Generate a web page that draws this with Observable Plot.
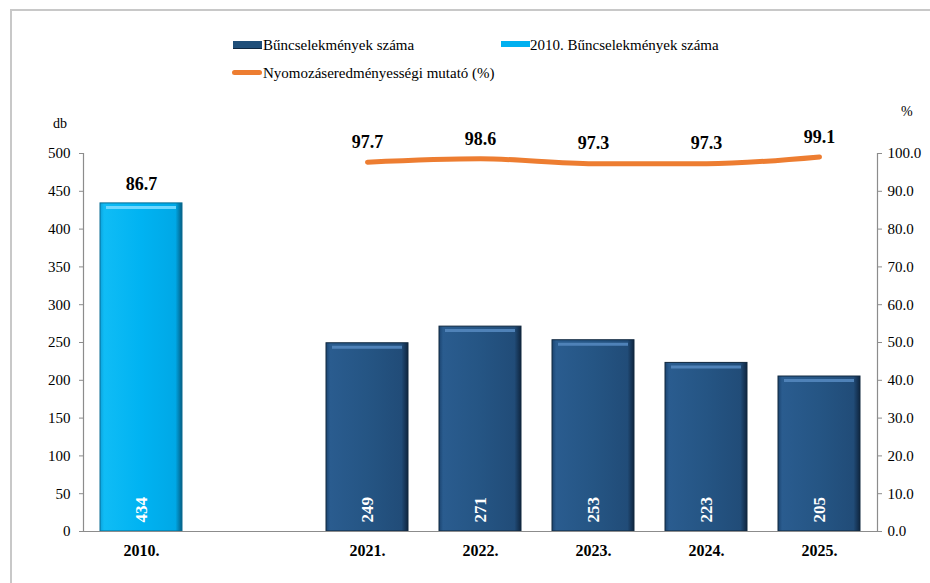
<!DOCTYPE html>
<html><head><meta charset="utf-8">
<script src="https://cdn.jsdelivr.net/npm/d3@7"></script>
<script src="https://cdn.jsdelivr.net/npm/@observablehq/plot@0.6"></script>
<style>
body{margin:0;background:#fff;font-family:"Liberation Serif","Times New Roman",Tinos,"DejaVu Serif",serif;}
#wrap{position:relative;width:930px;height:583px;overflow:hidden;}
#frame{position:absolute;left:10px;top:9px;width:940px;height:600px;border-top:2px solid #c8c8c8;border-left:2px solid #c8c8c8;}
#chart{position:absolute;left:0;top:0;}
.leg{position:absolute;font-size:15px;color:#000;white-space:nowrap;line-height:18px;}
.sw{position:absolute;}
.unit{position:absolute;font-size:14px;color:#000;}
svg text{font-family:"Liberation Serif","Times New Roman",Tinos,"DejaVu Serif",serif;}
</style></head>
<body>
<div id="wrap">
  <div id="frame"></div>
  <div id="chart"></div>
  <div class="sw" style="left:233px;top:41px;width:29px;height:7px;background:#1f4e79;border-bottom:1px solid #0d2640;"></div>
  <div class="leg" style="left:263px;top:36px;">Bűncselekmények száma</div>
  <div class="sw" style="left:501px;top:41px;width:29px;height:6px;background:#00b0f0;"></div>
  <div class="leg" style="left:530px;top:36px;">2010. Bűncselekmények száma</div>
  <div class="sw" style="left:232px;top:70px;width:30px;height:5px;background:#ed7d31;border-radius:3px;"></div>
  <div class="leg" style="left:263px;top:64px;">Nyomozáseredményességi mutató (%)</div>
  <div class="unit" style="left:53px;top:116px;">db</div>
  <div class="unit" style="left:901px;top:104px;">%</div>
</div>
<script>
const categories = ["2010.", "", "2021.", "2022.", "2023.", "2024.", "2025."];
const darkYears = ["2021.", "2022.", "2023.", "2024.", "2025."];
const darkValues = [249, 271, 253, 223, 205];
const lightYears = ["2010."];
const lightValues = [434];
const pctYears = ["2010.", "2021.", "2022.", "2023.", "2024.", "2025."];
const pctValues = [86.7, 97.7, 98.6, 97.3, 97.3, 99.1];
const leftTicks = [0, 50, 100, 150, 200, 250, 300, 350, 400, 450, 500];
const rightTicks = [0, 10, 20, 30, 40, 50, 60, 70, 80, 90, 100];
const pctToDb = 500 / 100;

const dark = darkYears.map((year, i) => ({year, value: darkValues[i]}));
const light = lightYears.map((year, i) => ({year, value: lightValues[i]}));
const allBars = light.concat(dark);
const pct = pctYears.map((year, i) => ({year, pct: pctValues[i]}));
const pctLine = pct.filter(d => darkYears.includes(d.year));
const serif = "'Liberation Serif','Times New Roman',Tinos,'DejaVu Serif',serif";

const chart = Plot.plot({
  width: 930, height: 583,
  marginTop: 153, marginBottom: 52, marginLeft: 83, marginRight: 53,
  style: {fontFamily: serif, fontSize: "15px", color: "#000", background: "transparent", overflow: "visible"},
  x: {type: "band", domain: categories, paddingInner: 0.27, paddingOuter: 0.135, label: null},
  y: {domain: [0, 500], label: null},
  marks: [
    Plot.barY(light, {x: "year", y: "value", fill: "url(#gLight)", stroke: "#0a6d93", strokeWidth: 1}),
    Plot.barY(dark, {x: "year", y: "value", fill: "url(#gDark)", stroke: "#10283f", strokeWidth: 1}),
    Plot.tickY(light, {x: "year", y: "value", dy: 4, insetLeft: 6, insetRight: 6, stroke: "#6fd8ff", strokeWidth: 3}),
    Plot.tickY(dark, {x: "year", y: "value", dy: 4, insetLeft: 6, insetRight: 6, stroke: "#4f82b8", strokeWidth: 3}),
    Plot.ruleY([0], {stroke: "#8c8c8c", strokeWidth: 1.2}),
    Plot.frame({anchor: "left", stroke: "#8c8c8c", strokeWidth: 1.2}),
    Plot.frame({anchor: "right", stroke: "#8c8c8c", strokeWidth: 1.2}),
    Plot.axisY(leftTicks, {anchor: "left", tickSize: 4, tickPadding: 9, stroke: "#8c8c8c", fill: "#000", fontSize: 15, label: null}),
    Plot.axisY(rightTicks.map(t => t * pctToDb), {anchor: "right", tickSize: 4, tickPadding: 6, stroke: "#8c8c8c", fill: "#000", fontSize: 15, label: null, tickFormat: d => (d / pctToDb).toFixed(1)}),
    Plot.axisX({tickSize: 0, tickPadding: 13, fontWeight: "bold", fontSize: 16, fill: "#000", label: null}),
    Plot.line(pctLine, {x: "year", y: d => d.pct * pctToDb, stroke: "#ed7d31", strokeWidth: 5, curve: "monotone-x", strokeLinecap: "round"}),
    Plot.text(pct, {x: "year", y: d => d.pct * pctToDb, text: d => d.pct.toFixed(1), dy: -20, fontWeight: "bold", fontSize: 18, fill: "#000"}),
    Plot.text(allBars, {x: "year", y: 0, text: d => String(d.value), rotate: -90, textAnchor: "start", dy: -9, fill: "#fff", fontWeight: "bold", fontSize: 17})
  ]
});
chart.insertAdjacentHTML("afterbegin", `<defs>
<linearGradient id="gDark" x1="0" x2="1" y1="0" y2="0">
<stop offset="0" stop-color="#1b4470"/><stop offset="0.05" stop-color="#2a5c8f"/><stop offset="0.5" stop-color="#255584"/><stop offset="0.92" stop-color="#214c78"/><stop offset="1" stop-color="#0f2640"/>
</linearGradient>
<linearGradient id="gLight" x1="0" x2="1" y1="0" y2="0">
<stop offset="0" stop-color="#0aa2dc"/><stop offset="0.05" stop-color="#10bcf5"/><stop offset="0.5" stop-color="#00b3f2"/><stop offset="0.92" stop-color="#00a8e6"/><stop offset="1" stop-color="#045f85"/>
</linearGradient></defs>`);
document.getElementById("chart").appendChild(chart);
</script>
</body></html>
